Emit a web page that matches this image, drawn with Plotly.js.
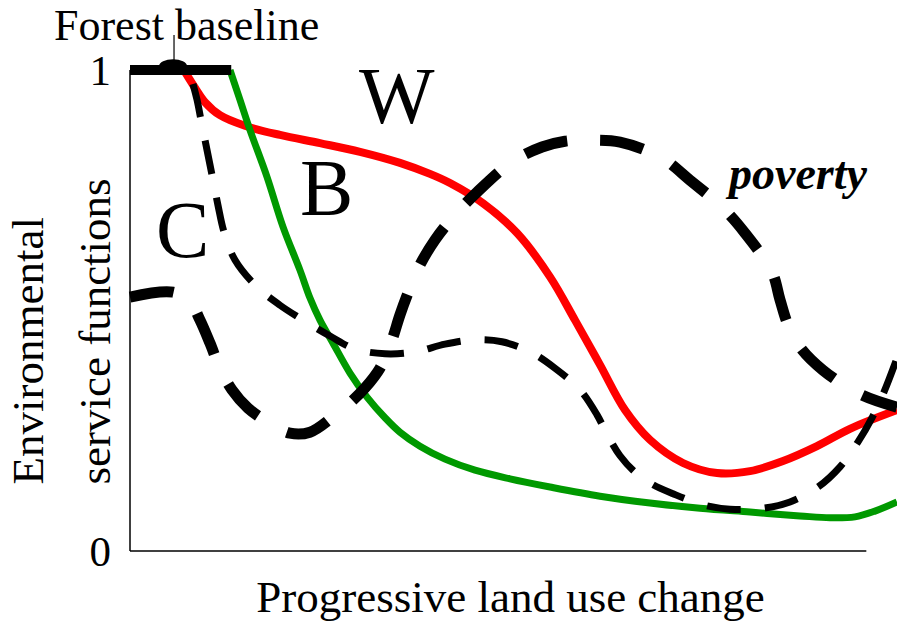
<!DOCTYPE html>
<html>
<head>
<meta charset="utf-8">
<script src="https://cdn.plot.ly/plotly-3.0.1.min.js"></script>
<style>
html,body{margin:0;padding:0;background:#ffffff;}
#chart{width:897px;height:627px;}
</style>
</head>
<body>
<div id="chart"></div>
<script>
// Progressive land use change (0 = forest, 100 = right edge), service function level (0..1)
const baselineX = [0, 13.2];
const baselineY = [1, 1];

// W curve (red)
const wX = [7.17, 8.47, 9.78, 11.73, 14.99, 19.56, 24.77, 29.99, 35.20, 39.11, 41.72, 46.02, 50.46, 54.76, 58.02, 61.28, 64.54, 67.80, 72.10, 76.53, 80.83, 85.14, 89.57, 93.87, 100];
const wY = [0.996, 0.963, 0.933, 0.906, 0.884, 0.865, 0.848, 0.830, 0.807, 0.784, 0.765, 0.723, 0.661, 0.570, 0.480, 0.387, 0.293, 0.231, 0.183, 0.162, 0.166, 0.187, 0.218, 0.254, 0.293];

// B curve (green)
const bX = [13.04, 14.34, 15.65, 17.86, 19.95, 22.16, 23.47, 24.77, 26.47, 28.68, 30.90, 33.25, 35.20, 37.81, 41.07, 44.98, 49.54, 54.76, 61.28, 67.80, 74.32, 80.83, 87.35, 91.26, 94.52, 97.13, 100];
const bY = [1.0, 0.938, 0.875, 0.778, 0.674, 0.584, 0.526, 0.480, 0.432, 0.370, 0.320, 0.277, 0.247, 0.218, 0.191, 0.168, 0.150, 0.133, 0.114, 0.100, 0.089, 0.081, 0.073, 0.069, 0.071, 0.083, 0.102];

// C curve (black dashed)
const cX = [8.21, 8.74, 9.26, 9.91, 10.69, 11.47, 12.26, 13.69, 16.56, 19.56, 22.16, 26.08, 29.34, 33.25, 37.16, 41.07, 44.98, 48.50, 52.41, 55.41, 58.67, 60.89, 62.32, 63.89, 65.84, 68.06, 70.80, 74.71, 78.23, 82.53, 86.05, 89.70, 92.57, 94.92, 96.74, 98.31, 100];
const cY = [0.971, 0.938, 0.896, 0.844, 0.782, 0.719, 0.663, 0.605, 0.549, 0.511, 0.484, 0.447, 0.420, 0.410, 0.414, 0.430, 0.439, 0.435, 0.412, 0.380, 0.335, 0.283, 0.239, 0.198, 0.164, 0.139, 0.119, 0.096, 0.087, 0.089, 0.102, 0.133, 0.175, 0.227, 0.277, 0.331, 0.401];

// poverty (thick black dashed)
const povX = [0, 5.61, 7.82, 9.13, 10.43, 11.73, 13.30, 15.38, 17.60, 20.86, 23.47, 26.47, 28.68, 30.64, 32.59, 34.16, 35.20, 36.51, 37.81, 39.77, 42.37, 45.24, 49.80, 53.72, 56.71, 59.32, 63.89, 69.36, 73.01, 77.31, 80.18, 83.70, 84.75, 85.79, 87.35, 90.35, 95.18, 100];
const povY = [0.528, 0.538, 0.518, 0.480, 0.432, 0.380, 0.335, 0.297, 0.272, 0.245, 0.247, 0.279, 0.308, 0.339, 0.380, 0.439, 0.491, 0.547, 0.595, 0.647, 0.699, 0.746, 0.809, 0.840, 0.852, 0.854, 0.850, 0.817, 0.771, 0.713, 0.661, 0.580, 0.522, 0.470, 0.424, 0.376, 0.326, 0.299];

const yTickVals = [0, 1];
const yTickText = ['0', '1'];
const curveLabels = ['W', 'B', 'C'];
const xTitle = 'Progressive land use change';
const yTitleLines = ['Environmental', 'service functions'];

const SERIF = '"Liberation Serif", "Times New Roman", Times, serif';

const traces = [
  {x: wX, y: wY, mode: 'lines', name: 'W', line: {color: '#ff0000', width: 8, shape: 'spline'}, hoverinfo: 'skip'},
  {x: bX, y: bY, mode: 'lines', name: 'B', line: {color: '#009900', width: 7, shape: 'spline'}, hoverinfo: 'skip'},
  {x: cX, y: cY, mode: 'lines', name: 'C', line: {color: '#000000', width: 7, shape: 'spline', dash: '34px,24px'}, hoverinfo: 'skip'},
  {x: povX, y: povY, mode: 'lines', name: 'poverty', line: {color: '#000000', width: 11, shape: 'spline', dash: '44px,33px'}, hoverinfo: 'skip'},
  {x: baselineX, y: baselineY, mode: 'lines', name: 'Forest baseline', line: {color: '#000000', width: 10}, hoverinfo: 'skip'}
];

const layout = {
  width: 897, height: 627,
  margin: {l: 124, r: 0, t: 30, b: 67},
  paper_bgcolor: '#ffffff', plot_bgcolor: '#ffffff',
  showlegend: false,
  font: {family: SERIF, color: '#000000'},
  xaxis: {
    range: [-0.782, 100], showgrid: false, zeroline: false, showline: false,
    showticklabels: false, ticks: '',
    title: {text: xTitle, font: {family: SERIF, size: 45, color: '#000'}, standoff: 20}
  },
  yaxis: {
    range: [-0.0187, 1.0832], showgrid: false, zeroline: false, showline: false,
    tickvals: yTickVals, ticktext: yTickText, ticks: '', ticklabelstandoff: 12,
    tickfont: {family: SERIF, size: 43, color: '#000'}
  },
  shapes: [
    {type: 'line', xref: 'x', yref: 'y', x0: 0, x1: 0, y0: 0, y1: 1, line: {color: '#000', width: 1.5}},
    {type: 'line', xref: 'x', yref: 'y', x0: 0, x1: 96, y0: 0, y1: 0, line: {color: '#000', width: 1.5}},
    {type: 'line', xref: 'x', yref: 'y', x0: 5.74, x1: 5.74, y0: 1.017, y1: 1.073, line: {color: '#000', width: 1.2}},
    {type: 'circle', xref: 'x', yref: 'y', xsizemode: 'pixel', ysizemode: 'pixel', xanchor: 5.61, yanchor: 1.008,
     x0: -14, x1: 14, y0: -7, y1: 7, fillcolor: '#000', line: {width: 0}}
  ],
  annotations: [
    {text: 'Forest baseline', xref: 'paper', yref: 'paper', x: 0.0815, y: 1.0094, showarrow: false, xanchor: 'center', yanchor: 'middle', font: {family: SERIF, size: 44}},
    {text: curveLabels[0], xref: 'x', yref: 'y', x: 34.81, y: 0.946, showarrow: false, xanchor: 'center', yanchor: 'middle', font: {family: SERIF, size: 80}},
    {text: curveLabels[1], xref: 'x', yref: 'y', x: 25.68, y: 0.755, showarrow: false, xanchor: 'center', yanchor: 'middle', font: {family: SERIF, size: 80}},
    {text: curveLabels[2], xref: 'x', yref: 'y', x: 6.78, y: 0.667, showarrow: false, xanchor: 'center', yanchor: 'middle', font: {family: SERIF, size: 80}},
    {text: '<b><i>poverty</i></b>', xref: 'x', yref: 'y', x: 86.96, y: 0.784, showarrow: false, xanchor: 'center', yanchor: 'middle', font: {family: SERIF, size: 46}},
    {text: yTitleLines[0], xref: 'paper', yref: 'paper', x: -0.1242, y: 0.3953, textangle: -90, showarrow: false, xanchor: 'center', yanchor: 'middle', font: {family: SERIF, size: 45}},
    {text: yTitleLines[1], xref: 'paper', yref: 'paper', x: -0.0375, y: 0.4311, textangle: -90, showarrow: false, xanchor: 'center', yanchor: 'middle', font: {family: SERIF, size: 45}}
  ]
};

Plotly.newPlot('chart', traces, layout, {displayModeBar: false, staticPlot: true});
</script>
</body>
</html>
